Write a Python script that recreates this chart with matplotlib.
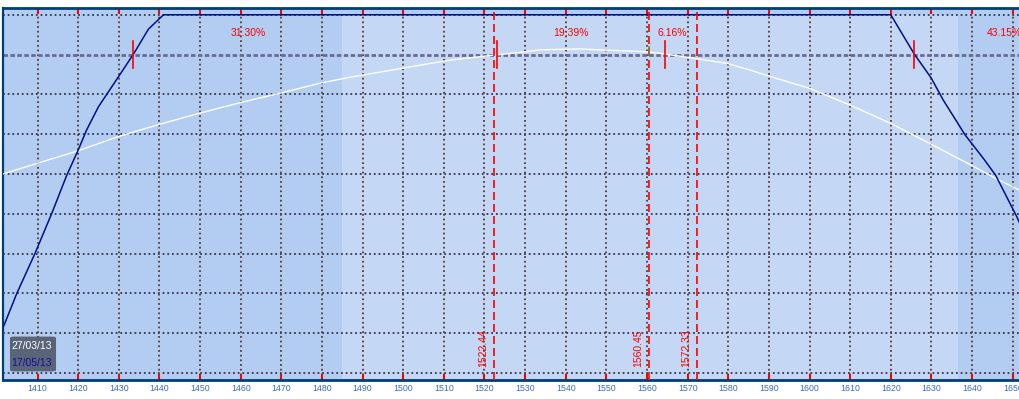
import matplotlib
matplotlib.use("Agg")
import matplotlib.pyplot as plt
from matplotlib.patches import FancyBboxPatch

# ---- data ----
blue_x = [1401.5, 1401.8, 1404.9, 1409.4, 1413.5, 1417.2, 1420.0, 1422.1, 1425.0, 1429.9,
          1433.6, 1437.3, 1441.0, 1620.0, 1625.8, 1629.9, 1632.9, 1638.3, 1642.8, 1645.8,
          1651.0, 1652.0]
blue_y = [1.15, 1.21, 2.00, 3.01, 4.01, 4.97, 5.60, 6.11, 6.69, 7.44,
          8.01, 8.64, 9.00, 9.00, 8.01, 7.42, 6.86, 5.98, 5.39, 4.97,
          3.93, 3.70]
white_x = [1401.5, 1410.0, 1419.9, 1429.9, 1440.1, 1450.0, 1459.8, 1470.1, 1479.9, 1486.9,
           1500.0, 1511.5, 1520.1, 1530.0, 1533.7, 1543.5, 1550.2, 1560.0, 1564.0, 1569.9,
           1579.7, 1585.4, 1590.0, 1600.1, 1610.0, 1620.0, 1629.9, 1640.0, 1645.8, 1651.6]
white_y = [5.00, 5.27, 5.58, 5.94, 6.25, 6.53, 6.79, 7.04, 7.29, 7.43,
           7.66, 7.86, 7.96, 8.07, 8.12, 8.14, 8.11, 8.07, 8.02, 7.93,
           7.78, 7.61, 7.46, 7.15, 6.73, 6.27, 5.75, 5.21, 4.89, 4.60]
ref_lines = [1522.44, 1560.45, 1572.33]
ref_labels = ["1522.44", "1560.45", "1572.33"]
markers_x = [1433.5, 1523.2, 1564.5, 1625.8]
pct_x = [1461.8, 1541.2, 1566.1, 1643.6]
pct_labels = ["31.30%", "19.39%", "6.16%", "43.15%"]
xticks = list(range(1410, 1651, 10))
dates = ["27/03/13", "17/05/13"]
band_left = (1401.5, 1484.9)
band_right = (1636.5, 1652.0)
level_y = 8.0
current_price = 1560.45

# ---- figure ----
W, H = 1019, 399
fig = plt.figure(figsize=(W / 100, H / 100), dpi=100)
fig.patch.set_facecolor("white")
ax = fig.add_axes([3 / W, 19 / H, 1016 / W, 372 / H])
xmin, xmax = 1401.5, 1651.56
ymin, ymax = -0.176, 9.17
ax.set_xlim(xmin, xmax)
ax.set_ylim(ymin, ymax)

light = "#c4d7f4"
dark = "#b2cdf1"
ax.set_facecolor(light)
ax.axvspan(*band_left, color=dark, lw=0, zorder=0)
ax.axvspan(*band_right, color=dark, lw=0, zorder=0)
ax.axhspan(9.0, ymax + 1, color=dark, lw=0, zorder=0)

# grid
for y in range(0, 10):
    if y == 8:
        continue
    ax.axhline(y, color="#3a3450", lw=1.3, ls=(0, (1, 1.6)), zorder=1)
for x in xticks:
    ax.axvline(x, color="#5a3c2e", lw=1.3, ls=(0, (1, 1.6)), zorder=1)
ax.axhline(level_y, color="#6a6a92", lw=2.0, ls=(0, (1.6, 0.9)), zorder=1.5)

# curves
ax.plot(white_x, white_y, color="white", lw=1.0, zorder=3)
ax.plot(blue_x, blue_y, color="#00108a", lw=1.1, zorder=4)

# reference lines
for xv, lab in zip(ref_lines, ref_labels):
    ax.axvline(xv, color="red", lw=1.2, ls=(0, (4.8, 2.4)), zorder=5)
    ax.text(xv - 2.7, 0.15, lab, rotation=90, ha="center", va="bottom",
            color="red", fontsize=7.5, family="Liberation Sans", zorder=6)
ax.plot([current_price, current_price], [8.0, 8.18], color="#8a7a20", lw=1.2, zorder=5.5)

for xv in markers_x:
    ax.plot([xv, xv], [level_y - 0.33, level_y + 0.33], color="red", lw=1.2, zorder=6)

for xv, lab in zip(pct_x, pct_labels):
    ha = "left" if lab == "43.15%" else "center"
    ax.text(xv, 8.54, lab, ha=ha, va="center", color="red", fontsize=7.5,
            family="Liberation Sans", zorder=6)

# axes styling
ax.set_xticks(xticks)
ax.set_xticklabels([str(t) for t in xticks], color="#3a6cc8", fontsize=6.3,
                   family="Liberation Sans")
ax.set_yticks([])
ax.tick_params(axis="x", direction="in", length=4.3, width=1.5, color="red",
               top=True, bottom=True, pad=3)
spine_c = "#003e78"
for s in ["left", "top", "bottom"]:
    ax.spines[s].set_color(spine_c)
    ax.spines[s].set_linewidth(1.6)
ax.spines["top"].set_linewidth(2.0)
ax.spines["bottom"].set_linewidth(2.0)
ax.spines["right"].set_visible(False)

# date box
box = FancyBboxPatch((11 / W, (H - 371) / H), 44 / W, 34 / H,
                     boxstyle="round,pad=0.001,rounding_size=0.004",
                     transform=fig.transFigure, facecolor="#5a6478",
                     edgecolor="none", zorder=10)
fig.patches.append(box)
fig.text(11.7 / W, (H - 345.7) / H, dates[0], color="white", fontsize=7.5,
         family="Liberation Sans", va="center", ha="left", zorder=11)
fig.text(11.7 / W, (H - 362.7) / H, dates[1], color="#10109a", fontsize=7.5,
         family="Liberation Sans", va="center", ha="left", zorder=11)

fig.savefig("out.png", dpi=100)
